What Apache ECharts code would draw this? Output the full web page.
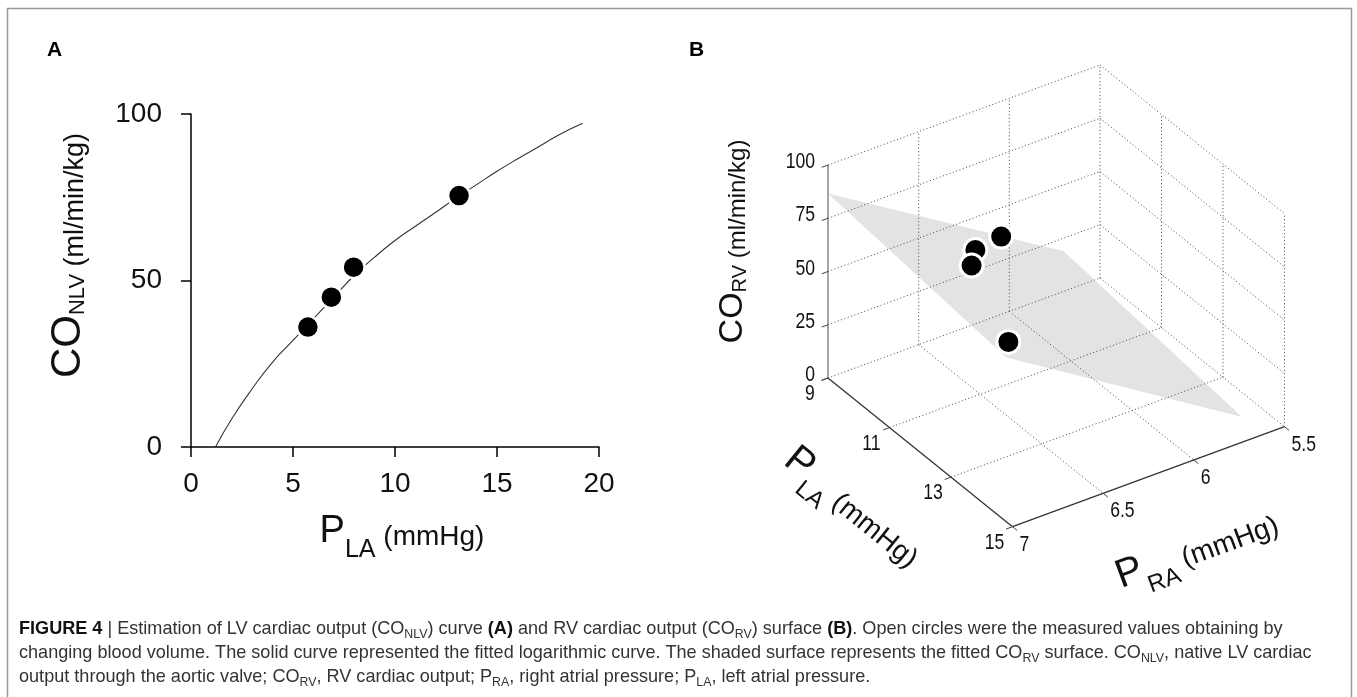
<!DOCTYPE html>
<html lang="en">
<head>
<meta charset="UTF-8">
<title>Figure 4</title>
<script src="https://cdn.jsdelivr.net/npm/echarts@6/dist/echarts.min.js"></script>
<style>
  body { margin: 0; padding: 0; background: #fff; }
  #main { width: 1357px; height: 697px; }
</style>
</head>
<body>
<div id="main"></div>
<script>
// ---- panel A: measured points and fitted log curve
var plaA = [5.73, 6.88, 7.97, 13.14];
var coNlv = [36.0, 45.0, 54.0, 75.5];
var curvePla = [1.2, 2, 3, 4, 5, 6, 7, 8, 9, 10, 11, 12, 13, 14, 15, 16, 17, 18, 19.2];
var curveCo = [0, 8.5, 17.5, 25.5, 32, 38.5, 45, 51.5, 57, 62, 66.3, 70.5, 74.8, 78.8, 82.8, 86.5, 90, 93.6, 97.2];

// ---- panel B: measured points and fitted surface
var plaTicks = [9, 11, 13, 15];
var praTicks = [7, 6.5, 6, 5.5];
var coTicks = [0, 25, 50, 75, 100];
var plaB = [9.03, 9.96, 10.78, 14.04];
var praB = [6.05, 6.35, 6.51, 6.86];
var coRv = [37.0, 50.9, 58.2, 71.2];
var surfPla = [9, 14.8];
var surfPra = [7, 5.7];
var surfCo = [[86.6, 18.8], [77.1, 8.5]]; // surfCo[i][j] -> surfPla[i], surfPra[j]

var FONT = "'Liberation Sans', Arial, sans-serif";

// oblique view of the 3D box, in px of the hidden grid (y up)
var plaRange = [9, 15], praRange = [7, 5.5], coRange = [0, 100];
var ePla = [184.5, -148.7], ePra = [272, 100], eCo = [0, 213], o3 = [0, 148.7];
function p3(pla, pra, co) {
  var u = (pla - plaRange[0]) / (plaRange[1] - plaRange[0]);
  var v = (pra - praRange[0]) / (praRange[1] - praRange[0]);
  var w = (co - coRange[0]) / (coRange[1] - coRange[0]);
  return [o3[0] + u * ePla[0] + v * ePra[0] + w * eCo[0],
          o3[1] + u * ePla[1] + v * ePra[1] + w * eCo[1]];
}

var curveData = curvePla.map(function (x, i) { return [x, curveCo[i]]; });
var dotsA = plaA.map(function (x, i) { return [x, coNlv[i]]; });

// dotted grid on the back walls and the floor
var P0 = plaRange[0], P1 = plaRange[1], R0 = praRange[0], R1 = praRange[1];
var gridSegs = [];
coTicks.forEach(function (c) {
  gridSegs.push([P0, R0, c, P0, R1, c]);
  gridSegs.push([P0, R1, c, P1, R1, c]);
});
praTicks.forEach(function (r) {
  if (r === R0) return;
  gridSegs.push([P0, r, 0, P0, r, 100]);
  if (r !== R1) gridSegs.push([P0, r, 0, P1, r, 0]);
});
plaTicks.forEach(function (l) {
  if (l === P0) return;
  gridSegs.push([l, R1, 0, l, R1, 100]);
  if (l !== P1) gridSegs.push([l, R0, 0, l, R1, 0]);
});
var axisSegs = [
  [P0, R0, 0, P0, R0, 100],
  [P0, R0, 0, P1, R0, 0],
  [P1, R0, 0, P1, R1, 0]
];
var tickData = [];
coTicks.forEach(function (c) { tickData.push([0, c]); });
plaTicks.forEach(function (l) { tickData.push([1, l]); });
praTicks.forEach(function (r) { tickData.push([2, r]); });

var surfCells = [];
for (var i = 0; i < surfPla.length - 1; i++) {
  for (var j = 0; j < surfPra.length - 1; j++) {
    surfCells.push([surfPla[i], surfPla[i + 1], surfPra[j], surfPra[j + 1],
      surfCo[i][j], surfCo[i][j + 1], surfCo[i + 1][j], surfCo[i + 1][j + 1]]);
  }
}
var dotsB = plaB.map(function (x, i) { return [x, praB[i], coRv[i]]; });

function segItem(api, dash, color, width) {
  var a = api.coord(p3(api.value(0), api.value(1), api.value(2)));
  var b = api.coord(p3(api.value(3), api.value(4), api.value(5)));
  return {
    type: 'line',
    shape: { x1: a[0], y1: a[1], x2: b[0], y2: b[1] },
    style: { stroke: color, lineWidth: width, lineDash: dash }
  };
}

// main text, subscript (dropped by `drop` px) and units
function richTitle(main, sub, unit, drop) {
  return {
    m: { fontSize: main, fontFamily: FONT, verticalAlign: 'bottom', color: '#111' },
    s: { fontSize: sub, fontFamily: FONT, verticalAlign: 'bottom', color: '#111', padding: [0, 0, -drop, 0] },
    u: { fontSize: unit, fontFamily: FONT, verticalAlign: 'bottom', color: '#111' }
  };
}

var chart = echarts.init(document.getElementById('main'));

chart.setOption({
  animation: false,
  backgroundColor: '#fff',
  grid: [
    { left: 191, top: 114, width: 408, height: 333 },
    { left: 828, top: 65, width: 456.5, height: 461.7 }
  ],
  xAxis: [{
    gridIndex: 0, type: 'value', min: 0, max: 20, interval: 5,
    axisLine: { onZero: false, lineStyle: { color: '#000', width: 1.5 } },
    axisTick: { length: 10, lineStyle: { color: '#000', width: 1.5 } },
    axisLabel: { fontSize: 28, fontFamily: FONT, color: '#111', margin: 23 },
    splitLine: { show: false },
    name: '{m|P}{s|LA}{u| (mmHg)}',
    nameLocation: 'middle', nameGap: 66,
    nameTextStyle: { padding: [0, 0, 0, 14], rich: richTitle(38, 25, 28, 12) }
  }, {
    gridIndex: 1, type: 'value', min: 0, max: 456.5, show: false
  }],
  yAxis: [{
    gridIndex: 0, type: 'value', min: 0, max: 100, interval: 50,
    axisLine: { show: true, onZero: false, lineStyle: { color: '#000', width: 1.5 } },
    axisTick: { show: true, length: 10, lineStyle: { color: '#000', width: 1.5 } },
    axisLabel: { fontSize: 28, fontFamily: FONT, color: '#111', margin: 29 },
    splitLine: { show: false },
    name: '{m|CO}{s|NLV}{u| (ml/min/kg)}',
    nameLocation: 'middle', nameRotate: 90, nameGap: 102,
    nameTextStyle: { padding: [0, 0, 0, 50], rich: richTitle(42, 22, 27, 0) }
  }, {
    gridIndex: 1, type: 'value', min: 0, max: 461.7, show: false
  }],
  series: [{
    type: 'line', xAxisIndex: 0, yAxisIndex: 0,
    data: curveData, smooth: true, showSymbol: false, silent: true,
    lineStyle: { color: '#333', width: 1.1 }, z: 2
  }, {
    type: 'scatter', xAxisIndex: 0, yAxisIndex: 0,
    data: dotsA, symbolSize: 22,
    itemStyle: { color: '#000', borderColor: '#fff', borderWidth: 2.5, opacity: 1 }, z: 3
  }, {
    // fitted surface
    type: 'custom', xAxisIndex: 1, yAxisIndex: 1, clip: false, z: 1,
    data: surfCells,
    renderItem: function (params, api) {
      var l0 = api.value(0), l1 = api.value(1), r0 = api.value(2), r1 = api.value(3);
      var pts = [
        api.coord(p3(l0, r0, api.value(4))),
        api.coord(p3(l0, r1, api.value(5))),
        api.coord(p3(l1, r1, api.value(7))),
        api.coord(p3(l1, r0, api.value(6)))
      ];
      return { type: 'polygon', shape: { points: pts }, style: { fill: '#e3e3e3' } };
    }
  }, {
    // dotted grid
    type: 'custom', xAxisIndex: 1, yAxisIndex: 1, clip: false, z: 2,
    data: gridSegs,
    renderItem: function (params, api) { return segItem(api, [1, 2.5], '#444', 1); }
  }, {
    // box axes
    type: 'custom', xAxisIndex: 1, yAxisIndex: 1, clip: false, z: 3,
    data: axisSegs,
    renderItem: function (params, api) {
      return segItem(api, null, params.dataIndex === 0 ? '#777' : '#333', 1.3);
    }
  }, {
    // ticks and tick labels
    type: 'custom', xAxisIndex: 1, yAxisIndex: 1, clip: false, z: 3,
    data: tickData,
    renderItem: function (params, api) {
      var ax = api.value(0), val = api.value(1);
      var a, b, off, align;
      if (ax === 0) { a = p3(P0, R0, val); b = p3(P0, R0 + 0.035, val); off = [-13, -3]; align = 'right'; }
      else if (ax === 1) { a = p3(val, R0, 0); b = p3(val, R0 + 0.035, 0); off = [-18, 16]; align = 'center'; }
      else { a = p3(P1, val, 0); b = p3(P1 + 0.15, val, 0); off = [7, 18]; align = 'left'; }
      var pa = api.coord(a), pb = api.coord(b);
      return {
        type: 'group', children: [
          { type: 'line', shape: { x1: pa[0], y1: pa[1], x2: pb[0], y2: pb[1] }, style: { stroke: '#444', lineWidth: 1 } },
          { type: 'text', x: pa[0] + off[0], y: pa[1] + off[1], scaleX: 0.8,
            style: { text: String(val), fill: '#111', fontSize: 22, fontFamily: FONT, align: align, verticalAlign: 'middle' } }
        ]
      };
    }
  }, {
    // axis titles of panel B
    type: 'custom', xAxisIndex: 1, yAxisIndex: 1, clip: false, z: 3,
    data: [[0], [1], [2]],
    renderItem: function (params, api) {
      var k = api.value(0), anchor, off, rot, text, rich;
      if (k === 0) {
        anchor = p3(P0, R0, 50); off = [-95, -30]; rot = Math.PI / 2;
        text = '{m|CO}{s|RV}{u| (ml/min/kg)}'; rich = richTitle(34, 20, 24, 0);
      } else if (k === 1) {
        anchor = p3((P0 + P1) / 2, R0, 0); off = [-67, 54]; rot = -Math.atan2(-ePla[1], ePla[0]);
        text = '{m|P}{s|LA}{u| (mmHg)}'; rich = richTitle(40, 24, 28, 11);
      } else {
        anchor = p3(P1, (R0 + R1) / 2, 0); off = [48, 72]; rot = Math.atan2(ePra[1], ePra[0]);
        text = '{m|P}{s|RA}{u| (mmHg)}'; rich = richTitle(40, 24, 28, 11);
      }
      var pa = api.coord(anchor);
      return {
        type: 'text', x: pa[0] + off[0], y: pa[1] + off[1], rotation: rot,
        style: { text: text, rich: rich, align: 'center', verticalAlign: 'middle', fill: '#111' }
      };
    }
  }, {
    // measured points of panel B
    type: 'custom', xAxisIndex: 1, yAxisIndex: 1, clip: false, z: 5,
    data: dotsB,
    renderItem: function (params, api) {
      var c = api.coord(p3(api.value(0), api.value(1), api.value(2)));
      return { type: 'circle', shape: { cx: c[0], cy: c[1], r: 11.5 }, style: { fill: '#000', stroke: '#fff', lineWidth: 3 } };
    }
  }],
  graphic: [
    { type: 'rect', shape: { x: 7.5, y: 8.5, width: 1344, height: 700 }, style: { fill: 'none', stroke: '#999', lineWidth: 1.5 }, silent: true },
    { type: 'text', x: 47, y: 50, style: { text: 'A', fontSize: 21, fontWeight: 'bold', fontFamily: FONT, fill: '#000', verticalAlign: 'middle' } },
    { type: 'text', x: 689, y: 50, style: { text: 'B', fontSize: 21, fontWeight: 'bold', fontFamily: FONT, fill: '#000', verticalAlign: 'middle' } },
    {
      type: 'text', x: 19, y: 617, scaleX: 0.952,
      style: {
        text: '{b|FIGURE 4} | Estimation of LV cardiac output (CO{s|NLV}) curve {b|(A)} and RV cardiac output (CO{s|RV}) surface {b|(B)}. Open circles were the measured values obtaining by\n' +
              'changing blood volume. The solid curve represented the fitted logarithmic curve. The shaded surface represents the fitted CO{s|RV} surface. CO{s|NLV}, native LV cardiac\n' +
              'output through the aortic valve; CO{s|RV}, RV cardiac output; P{s|RA}, right atrial pressure; P{s|LA}, left atrial pressure.',
        fontSize: 19, fontFamily: FONT, fill: '#333', lineHeight: 24, verticalAlign: 'top',
        rich: {
          b: { fontSize: 19, fontFamily: FONT, fontWeight: 'bold', fill: '#111', verticalAlign: 'middle' },
          s: { fontSize: 13, fontFamily: FONT, fill: '#333', verticalAlign: 'middle', padding: [10, 0, 0, 0] }
        }
      }
    }
  ]
});
</script>
</body>
</html>
